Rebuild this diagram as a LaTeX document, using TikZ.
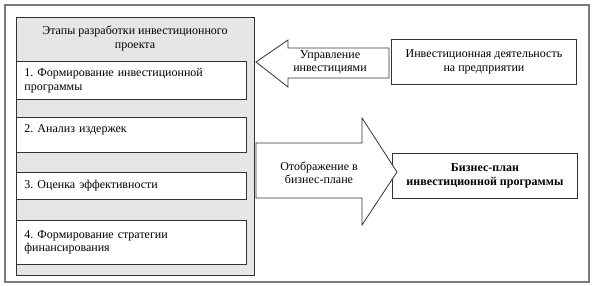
\documentclass[tikz,border=0pt]{standalone}
\usepackage{fontspec}
\setmainfont{Liberation Serif}
\usepackage{tikz}
\usetikzlibrary{positioning}
\definecolor{stagefill}{HTML}{E6E6E6}
\definecolor{framegray}{HTML}{7A7A7A}
\definecolor{lineink}{HTML}{333333}
\frenchspacing

\begin{document}
\begin{tikzpicture}[x=1pt,y=-1pt,font=\fontsize{12}{13.5}\selectfont,
  stagebox/.style={draw=lineink,fill=white,line width=0.9pt,anchor=north west,
    minimum width=230pt,text width=214pt,inner xsep=8pt,align=left},
  sidebox/.style={draw=lineink,fill=white,line width=0.9pt,anchor=north west,
    minimum width=185pt,minimum height=45pt,align=center},
  blockarrow/.style={draw=lineink,fill=white,line width=0.8pt}]
  \useasboundingbox (0,0) rectangle (595,286);
  % outer frame and stage panel
  \draw[framegray,line width=1.6pt] (5,5) rectangle (589,282);
  \node[draw=lineink,fill=stagefill,line width=0.9pt,anchor=north west,
    minimum width=238pt,minimum height=258pt] (panel) at (16,17) {};
  \node[align=center] (title) at (135,38.5) {Этапы разработки инвестиционного\\проекта};
  % stages
  \node[stagebox,minimum height=38pt] (s1) at (16,61) {1. Формирование инвестиционной\\программы};
  \node[stagebox,minimum height=35pt] (s2) at (16,117) {2. Анализ издержек\\\mbox{}};
  \node[stagebox,minimum height=27pt] (s3) at (16,172) {3. Оценка эффективности};
  \node[stagebox,minimum height=44pt] (s4) at (16,220) {4. Формирование стратегии\\финансирования};
  % right side boxes
  \node[sidebox] (invest) at (391,39) {Инвестиционная деятельность\\на предприятии};
  \node[sidebox,font=\fontsize{12}{13.5}\selectfont\bfseries] (plan) at (392,153)
    {Бизнес-план\\инвестиционной программы};
  % block arrows
  \draw[blockarrow] (256,62) -- (288,40) -- (288,48) -- (389,48) -- (389,78)
    -- (288,78) -- (288,87) -- cycle;
  \node[align=center] (manage) at (330,62) {Управление\\инвестициями};
  \draw[blockarrow] (256,143) -- (362,143) -- (362,118) -- (397,172) -- (362,225)
    -- (362,198) -- (256,198) -- cycle;
  \node[align=center] (show) at (319,173) {Отображение в\\бизнес-плане};
\end{tikzpicture}
\end{document}
